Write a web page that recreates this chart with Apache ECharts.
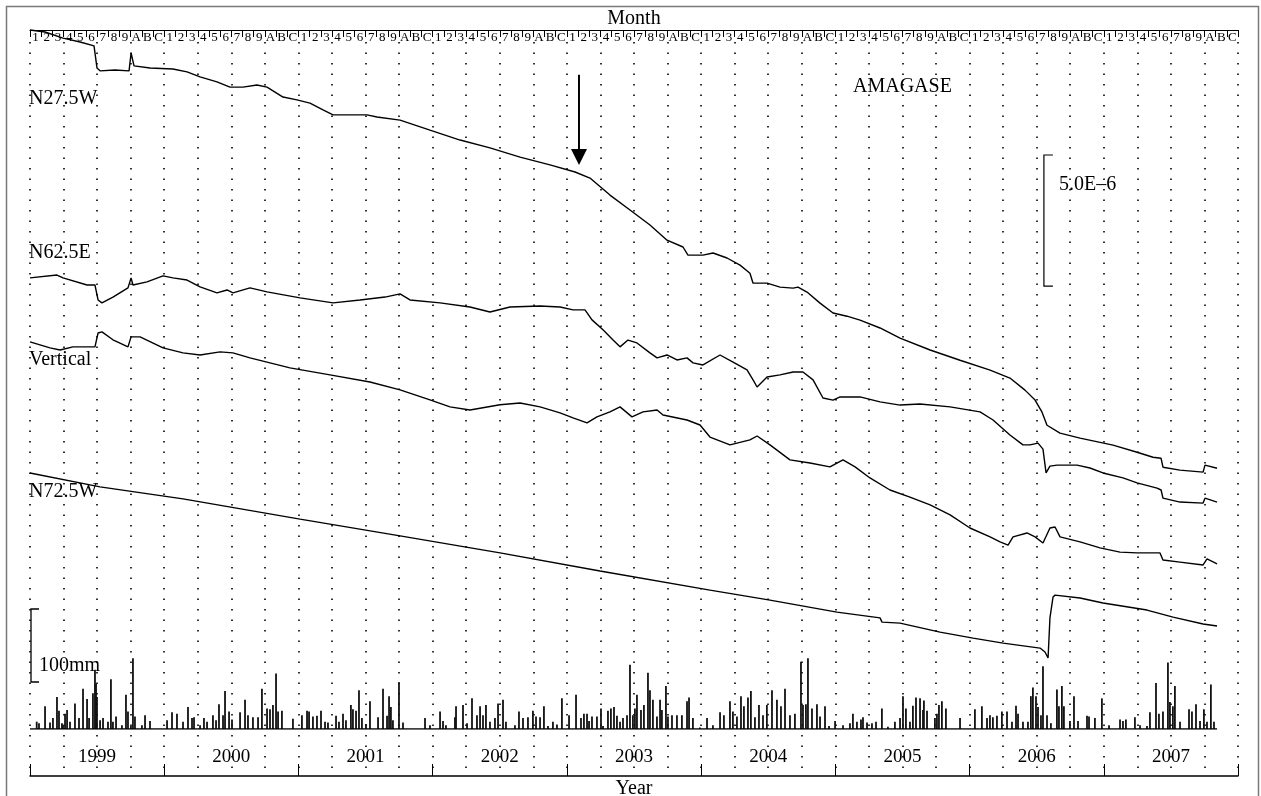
<!DOCTYPE html>
<html>
<head>
<meta charset="utf-8">
<title>AMAGASE strain record 1999-2007</title>
<script src="https://cdn.jsdelivr.net/npm/echarts@6/dist/echarts.min.js"></script>
<style>
  html, body { margin: 0; padding: 0; background: #fff; }
  #chart { width: 1261px; height: 796px; }
</style>
</head>
<body>
<div id="chart"></div>
<script>
// ---- Axis labels -------------------------------------------------------
const years = ['1999', '2000', '2001', '2002', '2003', '2004', '2005', '2006', '2007'];
const monthCodes = ['1', '2', '3', '4', '5', '6', '7', '8', '9', 'A', 'B', 'C'];
const monthTicks = years.flatMap(() => monthCodes);

// ---- Strain records: [decimal year, strain change in 1e-6] --------------
const n275w = [
  [1999.000, 0], [1999.112, -0.08], [1999.246, -0.31], [1999.373, -0.46], [1999.477, -0.61],
  [1999.499, -1.45], [1999.522, -1.56], [1999.633, -1.53], [1999.738, -1.56], [1999.753, -0.88],
  [1999.775, -1.37], [1999.894, -1.45], [2000.065, -1.49], [2000.170, -1.60], [2000.267, -1.79],
  [2000.393, -1.98], [2000.490, -2.18], [2000.587, -2.18], [2000.691, -2.10], [2000.766, -2.18],
  [2000.885, -2.56], [2000.989, -2.67], [2001.086, -2.79], [2001.183, -3.05], [2001.258, -3.24],
  [2001.406, -3.24], [2001.511, -3.24], [2001.585, -3.32], [2001.757, -3.44], [2001.980, -3.82],
  [2002.204, -4.20], [2002.427, -4.50], [2002.651, -4.85], [2002.874, -5.15], [2003.061, -5.42],
  [2003.172, -5.65], [2003.321, -6.30], [2003.470, -6.87], [2003.619, -7.44], [2003.746, -8.02],
  [2003.865, -8.28], [2003.902, -8.59], [2004.014, -8.59], [2004.089, -8.51], [2004.193, -8.70],
  [2004.290, -8.97], [2004.364, -9.28], [2004.387, -9.66], [2004.491, -9.66], [2004.588, -9.81],
  [2004.685, -9.85], [2004.722, -9.81], [2004.789, -10.00], [2004.886, -10.42], [2004.983, -10.80],
  [2005.087, -10.92], [2005.184, -11.07], [2005.333, -11.37], [2005.482, -11.76], [2005.706, -12.21],
  [2005.929, -12.60], [2006.153, -12.98], [2006.301, -13.28], [2006.413, -13.74], [2006.488, -14.12],
  [2006.540, -14.58], [2006.577, -15.08], [2006.674, -15.38], [2006.823, -15.57], [2007.069, -15.84],
  [2007.248, -16.11], [2007.367, -16.30], [2007.427, -16.34], [2007.441, -16.68], [2007.568, -16.79],
  [2007.740, -16.87], [2007.754, -16.60], [2007.844, -16.72]
];

const n625e = [
  [1999.000, 0], [1999.201, 0.11], [1999.246, 0], [1999.425, -0.27], [1999.484, -0.27],
  [1999.507, -0.84], [1999.536, -0.95], [1999.618, -0.73], [1999.730, -0.38], [1999.753, 0],
  [1999.767, -0.27], [1999.872, -0.15], [1999.991, 0.08], [2000.065, 0], [2000.170, -0.08],
  [2000.267, -0.34], [2000.393, -0.57], [2000.468, -0.46], [2000.512, -0.57], [2000.639, -0.38],
  [2000.766, -0.53], [2001.012, -0.76], [2001.258, -0.95], [2001.459, -0.84], [2001.645, -0.73],
  [2001.757, -0.61], [2001.831, -0.84], [2002.055, -0.95], [2002.278, -1.11], [2002.427, -1.30],
  [2002.576, -1.11], [2002.800, -1.07], [2002.949, -1.11], [2003.046, -1.22], [2003.135, -1.22],
  [2003.187, -1.60], [2003.269, -1.98], [2003.344, -2.37], [2003.396, -2.63], [2003.455, -2.37],
  [2003.522, -2.48], [2003.619, -2.86], [2003.672, -3.05], [2003.746, -2.94], [2003.820, -3.13],
  [2003.895, -3.05], [2003.940, -3.24], [2004.014, -3.32], [2004.141, -2.94], [2004.238, -3.21],
  [2004.342, -3.51], [2004.387, -3.89], [2004.417, -4.16], [2004.491, -3.78], [2004.588, -3.70],
  [2004.685, -3.59], [2004.759, -3.59], [2004.834, -3.89], [2004.908, -4.58], [2004.983, -4.66],
  [2005.035, -4.54], [2005.184, -4.54], [2005.333, -4.73], [2005.482, -4.85], [2005.631, -4.81],
  [2005.855, -4.92], [2006.078, -5.11], [2006.175, -5.42], [2006.301, -5.99], [2006.398, -6.37],
  [2006.450, -6.37], [2006.510, -6.30], [2006.547, -6.53], [2006.570, -7.44], [2006.599, -7.18],
  [2006.652, -7.14], [2006.801, -7.14], [2006.897, -7.25], [2006.994, -7.44], [2007.143, -7.63],
  [2007.248, -7.82], [2007.397, -8.02], [2007.427, -8.09], [2007.441, -8.40], [2007.568, -8.55],
  [2007.740, -8.59], [2007.754, -8.40], [2007.844, -8.55]
];

const vertical = [
  [1999.000, 0], [1999.149, -0.23], [1999.224, -0.31], [1999.320, -0.19], [1999.484, -0.19],
  [1999.507, 0.34], [1999.536, 0.38], [1999.618, 0.08], [1999.730, -0.19], [1999.753, 0.19],
  [1999.820, 0.19], [1999.991, -0.23], [2000.140, -0.42], [2000.267, -0.50], [2000.416, -0.38],
  [2000.512, -0.42], [2000.639, -0.61], [2000.937, -0.99], [2001.235, -1.26], [2001.533, -1.53],
  [2001.757, -1.83], [2001.980, -2.21], [2002.129, -2.48], [2002.278, -2.60], [2002.502, -2.40],
  [2002.651, -2.33], [2002.800, -2.48], [2002.949, -2.71], [2003.046, -2.90], [2003.150, -3.09],
  [2003.224, -2.86], [2003.321, -2.67], [2003.396, -2.48], [2003.485, -2.86], [2003.567, -2.67],
  [2003.672, -2.60], [2003.716, -2.79], [2003.895, -2.98], [2003.992, -3.17], [2004.066, -3.63],
  [2004.215, -3.93], [2004.364, -3.74], [2004.417, -3.59], [2004.513, -3.93], [2004.662, -4.50],
  [2004.811, -4.62], [2004.960, -4.77], [2005.057, -4.50], [2005.147, -4.77], [2005.258, -5.19],
  [2005.407, -5.65], [2005.556, -5.92], [2005.706, -6.22], [2005.855, -6.60], [2006.003, -7.10],
  [2006.153, -7.44], [2006.227, -7.63], [2006.287, -7.75], [2006.324, -7.44], [2006.428, -7.29],
  [2006.488, -7.44], [2006.547, -7.67], [2006.599, -7.10], [2006.637, -7.06], [2006.674, -7.44],
  [2006.823, -7.63], [2006.972, -7.86], [2007.121, -8.02], [2007.248, -8.05], [2007.419, -8.05],
  [2007.441, -8.32], [2007.568, -8.40], [2007.740, -8.51], [2007.769, -8.28], [2007.844, -8.47]
];

const n725w = [
  [1999.000, 0], [1999.522, -0.53], [2000.140, -0.99], [2001.012, -1.76], [2001.757, -2.40],
  [2002.502, -3.05], [2003.247, -3.74], [2004.066, -4.47], [2004.513, -4.85], [2005.012, -5.31],
  [2005.333, -5.53], [2005.348, -5.69], [2005.482, -5.73], [2005.780, -6.07], [2006.026, -6.30],
  [2006.250, -6.49], [2006.525, -6.68], [2006.562, -6.83], [2006.585, -7.06], [2006.599, -5.53],
  [2006.622, -4.73], [2006.637, -4.66], [2006.823, -4.77], [2006.994, -4.96], [2007.322, -5.23],
  [2007.516, -5.50], [2007.740, -5.76], [2007.844, -5.84]
];

// ---- Daily rainfall: [decimal year, mm] ---------------------------------
const rainfall = [
  [1999.050, 10], [1999.067, 8], [1999.112, 31], [1999.149, 9], [1999.171, 15], [1999.201, 44],
  [1999.216, 25], [1999.238, 8], [1999.246, 5], [1999.261, 21], [1999.276, 26], [1999.298, 10],
  [1999.335, 35], [1999.365, 15], [1999.395, 55], [1999.425, 41], [1999.440, 15], [1999.469, 49],
  [1999.484, 81], [1999.492, 62], [1999.499, 44], [1999.522, 12], [1999.544, 15], [1999.581, 10],
  [1999.603, 68], [1999.618, 10], [1999.641, 17], [1999.685, 5], [1999.715, 47], [1999.730, 24],
  [1999.752, 4], [1999.767, 97], [1999.782, 17], [1999.834, 5], [1999.857, 19], [1999.894, 11],
  [2000.021, 12], [2000.058, 23], [2000.095, 21], [2000.140, 10], [2000.177, 30], [2000.207, 15],
  [2000.222, 16], [2000.267, 5], [2000.296, 15], [2000.319, 10], [2000.363, 19], [2000.386, 12],
  [2000.408, 34], [2000.438, 19], [2000.453, 52], [2000.483, 24], [2000.505, 13], [2000.565, 23],
  [2000.602, 40], [2000.624, 19], [2000.661, 16], [2000.699, 16], [2000.728, 55], [2000.766, 28],
  [2000.788, 27], [2000.810, 33], [2000.833, 76], [2000.848, 24], [2000.877, 25], [2000.959, 14],
  [2001.026, 19], [2001.064, 25], [2001.079, 24], [2001.108, 17], [2001.138, 18], [2001.168, 25],
  [2001.198, 10], [2001.220, 9], [2001.280, 18], [2001.302, 10], [2001.332, 21], [2001.354, 12],
  [2001.391, 33], [2001.406, 27], [2001.429, 25], [2001.451, 53], [2001.473, 15], [2001.503, 7],
  [2001.533, 38], [2001.593, 16], [2001.630, 55], [2001.660, 18], [2001.675, 45], [2001.689, 30],
  [2001.704, 12], [2001.749, 64], [2001.779, 9], [2001.943, 15], [2001.980, 5], [2002.055, 24],
  [2002.077, 11], [2002.099, 5], [2002.166, 16], [2002.174, 31], [2002.226, 33], [2002.256, 8],
  [2002.293, 42], [2002.330, 19], [2002.353, 31], [2002.375, 19], [2002.397, 33], [2002.427, 10],
  [2002.464, 15], [2002.487, 35], [2002.524, 40], [2002.546, 10], [2002.613, 5], [2002.643, 24],
  [2002.673, 15], [2002.710, 16], [2002.747, 25], [2002.770, 17], [2002.800, 16], [2002.829, 31],
  [2002.859, 4], [2002.896, 10], [2002.926, 6], [2002.963, 42], [2003.016, 19], [2003.068, 47],
  [2003.105, 15], [2003.127, 21], [2003.150, 21], [2003.165, 11], [2003.187, 17], [2003.224, 17],
  [2003.254, 28], [2003.269, 4], [2003.306, 25], [2003.328, 28], [2003.351, 30], [2003.373, 18],
  [2003.396, 10], [2003.418, 15], [2003.448, 19], [2003.470, 88], [2003.492, 19], [2003.507, 28],
  [2003.522, 47], [2003.552, 26], [2003.574, 33], [2003.604, 77], [2003.619, 53], [2003.641, 40],
  [2003.671, 17], [2003.694, 40], [2003.708, 26], [2003.738, 59], [2003.753, 17], [2003.783, 19],
  [2003.820, 19], [2003.857, 19], [2003.895, 38], [2003.910, 43], [2003.939, 15], [2003.991, 2],
  [2004.044, 15], [2004.088, 5], [2004.141, 23], [2004.170, 19], [2004.215, 38], [2004.237, 24],
  [2004.267, 17], [2004.297, 45], [2004.319, 31], [2004.349, 43], [2004.371, 52], [2004.401, 16],
  [2004.431, 33], [2004.461, 19], [2004.490, 33], [2004.528, 53], [2004.565, 40], [2004.595, 31],
  [2004.625, 55], [2004.662, 19], [2004.699, 21], [2004.744, 92], [2004.759, 33], [2004.781, 34],
  [2004.796, 97], [2004.826, 28], [2004.863, 34], [2004.886, 17], [2004.923, 31], [2004.953, 4],
  [2004.998, 11], [2005.057, 5], [2005.109, 8], [2005.131, 21], [2005.161, 10], [2005.191, 13],
  [2005.206, 16], [2005.236, 9], [2005.273, 8], [2005.303, 10], [2005.347, 28], [2005.392, 3],
  [2005.444, 10], [2005.482, 15], [2005.504, 45], [2005.526, 28], [2005.556, 10], [2005.578, 32],
  [2005.601, 43], [2005.631, 42], [2005.653, 26], [2005.660, 39], [2005.683, 25], [2005.742, 15],
  [2005.757, 21], [2005.772, 33], [2005.794, 38], [2005.824, 28], [2005.929, 15], [2006.040, 27],
  [2006.092, 31], [2006.130, 15], [2006.152, 19], [2006.174, 16], [2006.204, 18], [2006.241, 24],
  [2006.279, 24], [2006.316, 10], [2006.346, 32], [2006.361, 21], [2006.398, 10], [2006.435, 10],
  [2006.457, 45], [2006.472, 57], [2006.495, 45], [2006.510, 30], [2006.532, 19], [2006.547, 86],
  [2006.577, 19], [2006.606, 8], [2006.651, 54], [2006.666, 31], [2006.688, 59], [2006.703, 31],
  [2006.748, 11], [2006.778, 45], [2006.808, 11], [2006.875, 18], [2006.890, 17], [2006.934, 15],
  [2006.986, 42], [2007.039, 5], [2007.121, 13], [2007.143, 11], [2007.165, 13], [2007.232, 16],
  [2007.270, 5], [2007.322, 4], [2007.344, 23], [2007.389, 63], [2007.411, 21], [2007.441, 24],
  [2007.478, 91], [2007.493, 37], [2007.515, 31], [2007.530, 59], [2007.568, 10], [2007.635, 27],
  [2007.657, 24], [2007.687, 34], [2007.717, 11], [2007.746, 27], [2007.769, 10], [2007.798, 61],
  [2007.821, 10]
];

// ---- Display setup ------------------------------------------------------
const SERIF = '"Liberation Serif", "DejaVu Serif", serif';
const INK = '#000';

// vertical stacking of the four components (in 1e-6 strain units)
const traces = [
  { name: 'N27.5W',   data: n275w,    offset: 28.46, labelY: 99,  clip: false },
  { name: 'N62.5E',   data: n625e,    offset: 19.00, labelY: 253, clip: true },
  { name: 'Vertical', data: vertical, offset: 16.56, labelY: 360, clip: true },
  { name: 'N72.5W',   data: n725w,    offset: 11.56, labelY: 492, clip: true }
];

const recordStart = 1999;
const recordEnd = n275w[n275w.length - 1][0];

const chart = echarts.init(document.getElementById('chart'), null, { renderer: 'canvas' });

const series = traces.map(tr => ({
  name: tr.name,
  type: 'line',
  xAxisIndex: 0,
  yAxisIndex: 0,
  data: tr.data.map(([t, v]) => [t, +(v + tr.offset).toFixed(3)]),
  showSymbol: false,
  symbol: 'none',
  clip: tr.clip,
  lineStyle: { color: INK, width: 1.4 },
  z: 5
}));

series.push({
  name: 'rain',
  type: 'bar',
  xAxisIndex: 3,
  yAxisIndex: 1,
  data: rainfall,
  barWidth: 1.8,
  itemStyle: { color: '#111' },
  z: 4
});

series.push({
  name: 'rain-base',
  type: 'line',
  xAxisIndex: 3,
  yAxisIndex: 1,
  data: [[recordStart, 0], [recordEnd, 0]],
  showSymbol: false,
  symbol: 'none',
  lineStyle: { color: INK, width: 1.5 },
  z: 6
});

const option = {
  animation: false,
  backgroundColor: '#fff',
  grid: [
    { left: 30, right: 23, top: 42, bottom: 20, containLabel: false, outerBoundsMode: 'none' },
    { left: 30, right: 23, top: 619.5, bottom: 67, containLabel: false, outerBoundsMode: 'none' }
  ],
  xAxis: [
    {
      gridIndex: 0, type: 'value', min: 1999, max: 2008, interval: 0.25, position: 'bottom',
      axisLine: { show: false }, axisTick: { show: false }, axisLabel: { show: false },
      splitLine: { show: true, lineStyle: { color: INK, width: 1.6, type: [1.6, 8.9] } }
    },
    {
      gridIndex: 0, type: 'category', data: years, position: 'bottom', boundaryGap: true,
      axisLine: { show: true, lineStyle: { color: INK, width: 1.5 } },
      axisTick: { show: true, inside: true, length: 12, lineStyle: { color: INK, width: 1 } },
      axisLabel: { inside: true, margin: 9, color: INK, fontSize: 19, fontFamily: SERIF },
      splitLine: { show: false },
      name: 'Year', nameLocation: 'middle', nameGap: 3, nameMoveOverlap: false,
      nameTextStyle: { color: INK, fontSize: 20, fontFamily: SERIF }
    },
    {
      gridIndex: 0, type: 'category', data: monthTicks, position: 'top', offset: 12, boundaryGap: true,
      axisLine: { show: true, lineStyle: { color: INK, width: 1 } },
      axisTick: { show: true, inside: true, length: 7, interval: 0, lineStyle: { color: INK, width: 1 } },
      axisLabel: { inside: true, interval: 0, margin: 1, color: INK, fontSize: 13, fontFamily: SERIF },
      splitLine: { show: false },
      name: 'Month', nameLocation: 'middle', nameGap: 1, nameMoveOverlap: false,
      nameTextStyle: { color: INK, fontSize: 20, fontFamily: SERIF }
    },
    { gridIndex: 1, type: 'value', min: 1999, max: 2008, show: false }
  ],
  yAxis: [
    { gridIndex: 0, type: 'value', min: 0, max: 28, show: false, splitLine: { show: false } },
    { gridIndex: 1, type: 'value', min: 0, max: 150, show: false, splitLine: { show: false } }
  ],
  series: series
};

chart.setOption(option);

// ---- Annotations: component names, station, arrow, scale bars ------------
const strainPx = (t, v) => chart.convertToPixel({ seriesIndex: 0 }, [t, v]);
const rainPx = (t, v) => chart.convertToPixel({ seriesIndex: 4 }, [t, v]);

const textStyle = (txt, size) => ({ text: txt, fill: INK, fontSize: size, fontFamily: SERIF });

const graphics = [];

// outer frame
graphics.push({
  type: 'rect', shape: { x: 6.5, y: 6.5, width: 1252, height: 800 },
  style: { fill: 'none', stroke: '#7a7a7a', lineWidth: 1.5 }, silent: true, z: 1
});

// component labels at the left edge
traces.forEach(tr => {
  graphics.push({
    type: 'text', x: 29, y: tr.labelY,
    style: Object.assign(textStyle(tr.name, 20), { verticalAlign: 'middle' }), z: 10
  });
});

// station name
graphics.push({
  type: 'text', x: 853, y: 87,
  style: Object.assign(textStyle('AMAGASE', 20), { verticalAlign: 'middle' }), z: 10
});

// arrow pointing down at the N27.5W record
const arrowT = 2003.09;
const arrowTop = strainPx(arrowT, 26.75);
const arrowTip = strainPx(arrowT, 23.31);
graphics.push({
  type: 'line',
  shape: { x1: arrowTop[0], y1: arrowTop[1], x2: arrowTip[0], y2: arrowTip[1] - 12 },
  style: { stroke: INK, lineWidth: 2 }, z: 10
});
graphics.push({
  type: 'polygon',
  shape: { points: [[arrowTip[0] - 8, arrowTip[1] - 16], [arrowTip[0] + 8, arrowTip[1] - 16], [arrowTip[0], arrowTip[1]]] },
  style: { fill: INK }, z: 10
});

// strain scale bar: 5.0E-6
const sbTop = strainPx(2006.554, 23.69);
const sbBot = strainPx(2006.554, 23.69 - 5);
graphics.push({
  type: 'polyline',
  shape: { points: [[sbTop[0] + 9, sbTop[1]], [sbTop[0], sbTop[1]], [sbBot[0], sbBot[1]], [sbBot[0] + 9, sbBot[1]]] },
  style: { stroke: INK, lineWidth: 1.2, fill: 'none' }, z: 10
});
graphics.push({
  type: 'text', x: sbTop[0] + 15, y: sbTop[1] + 30,
  style: Object.assign(textStyle('5.0E\u20136', 20), { verticalAlign: 'middle' }), z: 10
});

// rainfall scale bar: 100 mm
const rbTop = rainPx(recordStart, 164.4);
const rbBot = rainPx(recordStart, 64.4);
graphics.push({
  type: 'polyline',
  shape: { points: [[rbTop[0] + 9, rbTop[1]], [rbTop[0] + 1, rbTop[1]], [rbBot[0] + 1, rbBot[1]], [rbBot[0] + 9, rbBot[1]]] },
  style: { stroke: INK, lineWidth: 1.3, fill: 'none' }, z: 10
});
graphics.push({
  type: 'text', x: rbBot[0] + 9, y: rbBot[1] - 16,
  style: Object.assign(textStyle('100mm', 20), { verticalAlign: 'middle' }), z: 10
});

chart.setOption({ graphic: graphics });
</script>
</body>
</html>
